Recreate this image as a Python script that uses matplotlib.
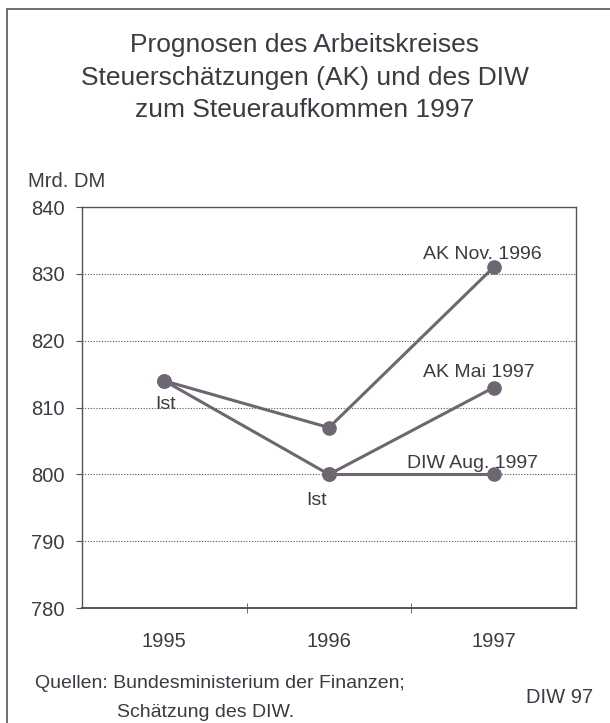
import matplotlib.pyplot as plt
from matplotlib.patches import Rectangle

plt.rcParams['font.family'] = ['Liberation Sans', 'DejaVu Sans']

years = ['1995', '1996', '1997']
ist = [814, 800]
ak_nov = [814, 807, 831]
ak_mai = [814, 800, 813]
diw_aug = [800, 800]
yticks = [780, 790, 800, 810, 820, 830, 840]
title_lines = ['Prognosen des Arbeitskreises',
               'Steuerschätzungen (AK) und des DIW',
               'zum Steueraufkommen 1997']

line_col = '#6e6670'
text_col = '#3c3a42'
grey = '#555555'

fig = plt.figure(figsize=(6.1, 7.23), dpi=100)
ax = fig.add_axes([0.1344, 0.159, 0.8098, 0.5546])

kw = dict(color=line_col, lw=2.2, marker='o', markersize=9.5, zorder=3)
ax.plot([0, 1, 2], ak_nov, **kw)
ax.plot([0, 1, 2], ak_mai, **kw)
ax.plot([1, 2], diw_aug, **kw)

ax.set_xlim(-0.5, 2.5)
ax.set_ylim(780, 840)
ax.set_yticks(yticks)
ax.set_xticks([0, 1, 2])
ax.set_xticklabels(years)
ax.set_xticks([0.5, 1.5], minor=True)
ax.tick_params(axis='x', which='major', length=0, pad=17, labelsize=14.5, colors=text_col)
ax.tick_params(axis='x', which='minor', length=7, direction='inout', color=grey)
ax.tick_params(axis='y', length=4.5, direction='out', pad=8, labelsize=14.5,
               colors=text_col, color=grey)
ax.grid(axis='y', linestyle=(0, (1, 1.5)), color=grey, lw=0.8)
for s in ax.spines.values():
    s.set_color(grey)
    s.set_linewidth(1.0)
ax.spines['bottom'].set_linewidth(1.4)

fs = 14
ax.text(-0.058, 809.8, 'Ist', ha='left', va='baseline', fontsize=fs, color=text_col)
ax.text(0.927, 795.4, 'Ist', ha='center', va='baseline', fontsize=fs, color=text_col)
ax.text(1.93, ak_nov[2] + 1.2, 'AK Nov. 1996', ha='center', va='baseline', fontsize=fs, color=text_col)
ax.text(1.907, ak_mai[2] + 1.6, 'AK Mai 1997', ha='center', va='baseline', fontsize=fs, color=text_col)
ax.text(1.871, diw_aug[1] + 0.9, 'DIW Aug. 1997', ha='center', va='baseline', fontsize=fs, color=text_col)

for i, line in enumerate(title_lines):
    fig.text(0.5, 1 - (45 + 32.5 * i) / 723, line, ha='center', va='center',
             fontsize=19, color=text_col)
fig.text(28 / 610, 1 - 187 / 723, 'Mrd. DM', ha='left', va='baseline', fontsize=14.5, color=text_col)
fig.text(35 / 610, 1 - 688 / 723, 'Quellen: Bundesministerium der Finanzen;', ha='left',
         va='baseline', fontsize=14, color=text_col)
fig.text(117 / 610, 1 - 717 / 723, 'Schätzung des DIW.', ha='left', va='baseline',
         fontsize=14, color=text_col)
fig.text(593 / 610, 1 - 703 / 723, 'DIW 97', ha='right', va='baseline', fontsize=14.5, color=text_col)

fig.patches.append(Rectangle((7 / 610, -0.01), 1.2, 1 - 9 / 723 + 0.01, transform=fig.transFigure,
                             fill=False, edgecolor=grey, lw=1.2))

fig.savefig('out.png', dpi=100)
